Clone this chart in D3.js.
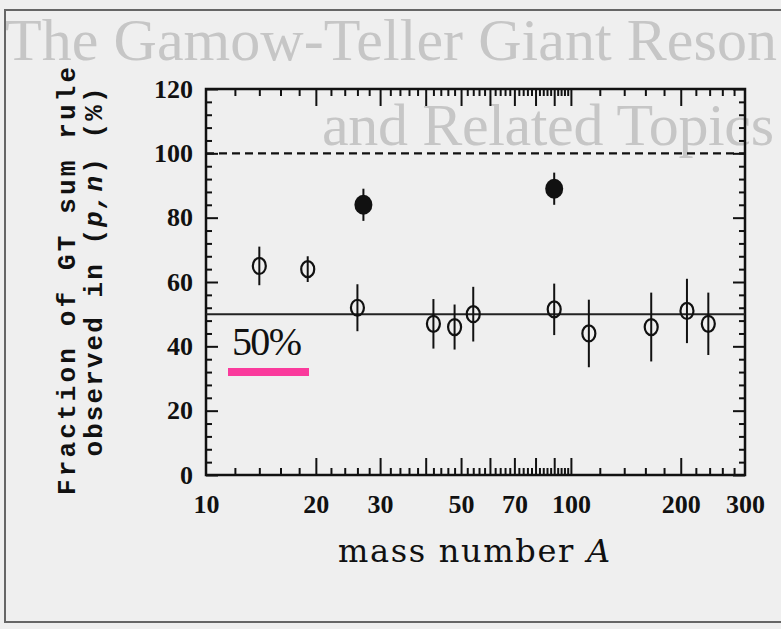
<!DOCTYPE html>
<html>
<head>
<meta charset="utf-8">
<script src="https://cdn.jsdelivr.net/npm/d3@7"></script>
<style>
  body { margin: 0; background: #efefef; }
  svg { display: block; }
</style>
</head>
<body>
<div id="chart"></div>
<script>
// frame size
const FRAME_WIDTH = 781;
const FRAME_HEIGHT = 629;

// plot box (pixels on the page)
const PLOT = {left: 206, right: 745, top: 89, bottom: 475};

// open points: fraction of GT sum rule seen in (p,n)
const OPEN_A = [14, 19, 26, 42, 48, 54, 90, 112, 166, 208, 238];
const OPEN_VALUE = [65, 64, 52, 47, 46, 50, 51.5, 44, 46, 51, 47];
const OPEN_ERROR = [6, 4, 7.3, 7.7, 7, 8.5, 8, 10.5, 10.7, 10, 9.7];

// filled points
const FILLED_A = [27, 90];
const FILLED_VALUE = [84, 89];
const FILLED_ERROR = [5, 5];

// axes
const X_LABELS = [10, 20, 30, 50, 70, 100, 200, 300];
const X_MAJOR = [20, 30, 40, 50, 60, 70, 80, 90, 100, 200];
const X_MINOR = [12, 14, 16, 18]
                  .concat(d3.range(22, 100, 2).filter((v) => {return v % 10 != 0;}))
                  .concat([120, 140, 160, 180, 220, 240, 260, 280]);
const Y_LABELS = [0, 20, 40, 60, 80, 100, 120];
const Y_MINOR = d3.range(4, 120, 4).filter((v) => {return v % 20 != 0;});

// reference lines
const SUM_RULE = 100;
const HALF_LINE = 50;

const SVG = d3.select("#chart")
              .append("svg")
                .attr("width", FRAME_WIDTH)
                .attr("height", FRAME_HEIGHT);

// paper
SVG.append("rect")
     .attr("width", FRAME_WIDTH)
     .attr("height", FRAME_HEIGHT)
     .attr("fill", "#efefef");

// title showing through from the page (faint)
const GHOST = SVG.append("g")
                   .attr("fill", "#c6c6c6")
                   .attr("font-family", "'Liberation Serif', serif")
                   .attr("font-size", 60);
GHOST.append("text").attr("x", 5).attr("y", 60).attr("textLength", 772)
       .text("The Gamow-Teller Giant Reson");
GHOST.append("text").attr("x", 322).attr("y", 145).attr("textLength", 452)
       .text("and Related Topics");

// scan border
SVG.append("path")
     .attr("d", "M781,10H5V622H781")
     .attr("fill", "none")
     .attr("stroke", "#666")
     .attr("stroke-width", 2);

// scales
const X_SCALE = d3.scaleLog()
                  .domain([10, 300])
                  .range([PLOT.left, PLOT.right]);
const Y_SCALE = d3.scaleLinear()
                  .domain([0, 120])
                  .range([PLOT.bottom, PLOT.top]);

// ticks: inward, on all four sides
function tickGroup(axis, tx, ty) {
  const g = SVG.append("g")
                 .attr("transform", "translate(" + tx + "," + ty + ")")
                 .call(axis);
  g.select(".domain").remove();
  g.selectAll("line").attr("stroke", "#111").attr("stroke-width", 2);
  return g;
}
tickGroup(d3.axisBottom(X_SCALE).tickValues(X_MINOR).tickSize(-7).tickFormat(""), 0, PLOT.bottom);
tickGroup(d3.axisBottom(X_SCALE).tickValues(X_MAJOR).tickSize(-17).tickFormat(""), 0, PLOT.bottom);
tickGroup(d3.axisTop(X_SCALE).tickValues(X_MINOR).tickSize(-7).tickFormat(""), 0, PLOT.top);
tickGroup(d3.axisTop(X_SCALE).tickValues(X_MAJOR).tickSize(-17).tickFormat(""), 0, PLOT.top);
tickGroup(d3.axisLeft(Y_SCALE).tickValues(Y_MINOR).tickSize(-6).tickFormat(""), PLOT.left, 0);
tickGroup(d3.axisLeft(Y_SCALE).tickValues(Y_LABELS).tickSize(-12).tickFormat(""), PLOT.left, 0);
tickGroup(d3.axisRight(Y_SCALE).tickValues(Y_MINOR).tickSize(-6).tickFormat(""), PLOT.right, 0);
tickGroup(d3.axisRight(Y_SCALE).tickValues(Y_LABELS).tickSize(-12).tickFormat(""), PLOT.right, 0);

// tick labels
const xLab = tickGroup(d3.axisBottom(X_SCALE).tickValues(X_LABELS).tickSize(0).tickPadding(20).tickFormat(d3.format("d")), 0, PLOT.bottom);
const yLab = tickGroup(d3.axisLeft(Y_SCALE).tickValues(Y_LABELS).tickSize(0).tickPadding(13), PLOT.left, 0);
[xLab, yLab].forEach((g) => {
  g.attr("font-family", "'Liberation Serif', serif")
   .attr("font-size", 26)
   .attr("font-weight", "bold");
  g.selectAll("text").attr("fill", "#111");
});

// frame
SVG.append("rect")
     .attr("x", PLOT.left)
     .attr("y", PLOT.top)
     .attr("width", PLOT.right - PLOT.left)
     .attr("height", PLOT.bottom - PLOT.top)
     .attr("fill", "none")
     .attr("stroke", "#111")
     .attr("stroke-width", 2.5);

// 100% dashed, 50% solid
SVG.append("line")
     .attr("x1", PLOT.left).attr("x2", PLOT.right)
     .attr("y1", Y_SCALE(SUM_RULE)).attr("y2", Y_SCALE(SUM_RULE))
     .attr("stroke", "#111")
     .attr("stroke-width", 2.2)
     .attr("stroke-dasharray", "8,5");
SVG.append("line")
     .attr("x1", PLOT.left).attr("x2", PLOT.right)
     .attr("y1", Y_SCALE(HALF_LINE)).attr("y2", Y_SCALE(HALF_LINE))
     .attr("stroke", "#222")
     .attr("stroke-width", 2);

// points
const openData = OPEN_A.map((a, i) => {return {a: a, v: OPEN_VALUE[i], e: OPEN_ERROR[i]};});
const filledData = FILLED_A.map((a, i) => {return {a: a, v: FILLED_VALUE[i], e: FILLED_ERROR[i]};});

SVG.selectAll("bars")
     .data(openData.concat(filledData))
     .enter()
     .append("line")
       .attr("x1", (d) => {return X_SCALE(d.a);})
       .attr("x2", (d) => {return X_SCALE(d.a);})
       .attr("y1", (d) => {return Y_SCALE(d.v - d.e);})
       .attr("y2", (d) => {return Y_SCALE(d.v + d.e);})
       .attr("stroke", "#111")
       .attr("stroke-width", 2);

SVG.selectAll("open")
     .data(openData)
     .enter()
     .append("ellipse")
       .attr("cx", (d) => {return X_SCALE(d.a);})
       .attr("cy", (d) => {return Y_SCALE(d.v);})
       .attr("rx", 6.5)
       .attr("ry", 8)
       .attr("fill", "none")
       .attr("stroke", "#111")
       .attr("stroke-width", 2.2);

SVG.selectAll("filled")
     .data(filledData)
     .enter()
     .append("ellipse")
       .attr("cx", (d) => {return X_SCALE(d.a);})
       .attr("cy", (d) => {return Y_SCALE(d.v);})
       .attr("rx", 9)
       .attr("ry", 10)
       .attr("fill", "#111");

// 50% note with pink underline
SVG.append("text")
     .attr("x", 232)
     .attr("y", 355)
     .attr("font-family", "'Liberation Serif', serif")
     .attr("font-size", 40)
     .attr("textLength", 70)
     .attr("fill", "#111")
     .text("50%");
SVG.append("rect")
     .attr("x", 228)
     .attr("y", 368)
     .attr("width", 81)
     .attr("height", 8)
     .attr("fill", "#fa3a9c");

// x title
const xTitle = SVG.append("text")
                    .attr("x", 338)
                    .attr("y", 562)
                    .attr("font-family", "'DejaVu Serif', serif")
                    .attr("font-size", 32)
                    .attr("textLength", 272)
                    .attr("fill", "#111");
xTitle.append("tspan").text("mass number ");
xTitle.append("tspan").attr("font-style", "italic").text("A");

// y title, two lines
const Y_FONT = "'Liberation Mono', 'DejaVu Sans Mono', monospace";
SVG.append("text")
     .attr("transform", "translate(75,281) rotate(-90)")
     .attr("text-anchor", "middle")
     .attr("font-family", Y_FONT)
     .attr("font-weight", "bold")
     .attr("font-size", 26)
     .attr("textLength", 428)
     .attr("fill", "#111")
     .text("Fraction of GT sum rule");
const yTitle2 = SVG.append("text")
                     .attr("transform", "translate(102,272) rotate(-90)")
                     .attr("text-anchor", "middle")
                     .attr("font-family", Y_FONT)
                     .attr("font-weight", "bold")
                     .attr("font-size", 26)
                     .attr("textLength", 369)
                     .attr("fill", "#111");
yTitle2.append("tspan").text("observed in (");
yTitle2.append("tspan").attr("font-style", "italic").text("p,n");
yTitle2.append("tspan").text(") (%)");
</script>
</body>
</html>
